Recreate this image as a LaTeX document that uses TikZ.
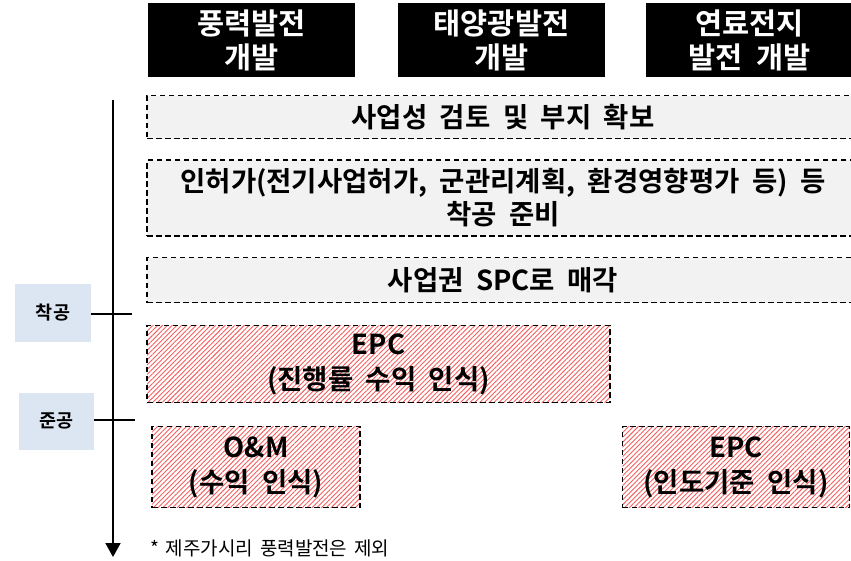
\documentclass[tikz,border=0pt]{standalone}
\usepackage{fontspec}
\setmainfont{Noto Sans CJK KR}[WordSpace=1.6]
\newfontfamily\krb{Noto Sans CJK KR Bold}[WordSpace=3.2]
\newfontfamily\krh{Noto Sans CJK KR Bold}[WordSpace=2]
\usetikzlibrary{patterns.meta,arrows.meta}
\definecolor{hdr}{RGB}{0,0,0}
\definecolor{greyfill}{RGB}{242,242,242}
\definecolor{bluefill}{RGB}{220,230,242}
\definecolor{hatchred}{RGB}{245,95,95}
\tikzset{
  hdrbox/.style={fill=hdr, text=white, minimum width=207pt, minimum height=74pt, inner sep=0pt, align=center, font=\krh\fontsize{29.5}{34}\selectfont},
  greybox/.style={fill=greyfill, draw=black, dash pattern=on 5.5pt off 3.5pt, line width=1.3pt, inner sep=0pt, align=center, font=\krb\fontsize{27.5}{33}\selectfont},
  hatchbox/.style={draw=black, dash pattern=on 5.5pt off 3.5pt, line width=1.3pt, pattern={Lines[angle=45,distance=3.4pt,line width=0.9pt]}, pattern color=hatchred, inner sep=0pt, align=center, font=\krb\fontsize{27.5}{35}\selectfont},
  lblbox/.style={fill=bluefill, inner sep=0pt, font=\krh\fontsize{18.5}{22}\selectfont},
  tick/.style={line width=1.5pt},
  timeline/.style={line width=2pt, -{Triangle[width=15pt,length=14pt]}},
}
\begin{document}
\begin{tikzpicture}[x=1pt,y=-1pt]
\clip (0,0) rectangle (851,560);
\fill[white] (0,0) rectangle (851,560);
% headers
\node[hdrbox] (h1) at (251.5,40) {풍력발전\\개발};
\node[hdrbox] (h2) at (501.5,40) {태양광발전\\개발};
\node[hdrbox] (h3) at (749.5,40) {연료전지\\발전 개발};
% grey stages
\node[greybox, minimum width=712pt, minimum height=43pt] (s1) at (503,117) {사업성 검토 및 부지 확보};
\node[greybox, minimum width=712pt, minimum height=76pt] (s2) at (503,198) {인허가(전기사업허가, 군관리계획, 환경영향평가 등) 등\\착공 준비};
\node[greybox, minimum width=712pt, minimum height=45pt] (s3) at (503,280) {사업권 SPC로 매각};
% hatched
\node[hatchbox, minimum width=463pt, minimum height=77pt] (epc1) at (378.5,364) {EPC\\(진행률 수익 인식)};
\node[hatchbox, minimum width=208pt, minimum height=81pt] (om) at (256,467) {O\&M\\(수익 인식)};
\node[hatchbox, minimum width=227pt, minimum height=81pt] (epc2) at (736,467) {EPC\\(인도기준 인식)};
% timeline
\coordinate (top) at (113,100);
\coordinate (bot) at (113,557);
\draw[timeline] (top) -- (bot);
\node[lblbox, minimum width=76pt, minimum height=58pt] (l1) at (53,313) {착공};
\node[lblbox, minimum width=75pt, minimum height=57pt] (l2) at (56.5,421) {준공};
\coordinate (t1) at (132,314);
\coordinate (t2) at (135,420);
\draw[tick] (l1.east |- t1) -- (t1);
\draw[tick] (l2.east |- t2) -- (t2);
% footnote
\node[anchor=west, inner sep=0pt, font=\fontsize{19}{23}\selectfont] (fn) at (150,548) {* 제주가시리 풍력발전은 제외};
\end{tikzpicture}
\end{document}
